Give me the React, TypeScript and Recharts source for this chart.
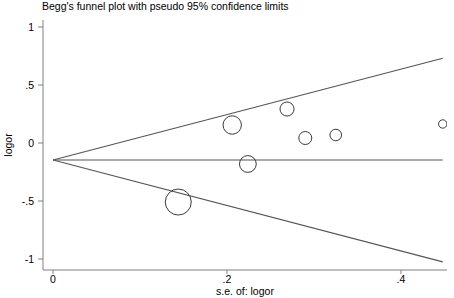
import React from 'react';
import { ComposedChart, Line, Scatter, XAxis, YAxis, ZAxis } from 'recharts';

// studies: standard error vs log odds ratio, weight ~ marker area
const studySE = [0.144, 0.206, 0.224, 0.269, 0.29, 0.325, 0.448];
const studyLogOR = [-0.509, 0.155, -0.181, 0.293, 0.043, 0.069, 0.164];
const studyWeight = [48, 24, 20, 14, 12, 9.5, 5];

// pooled estimate and pseudo 95% limits, read at se = 0 and se = max
const funnelSE = [0, 0.448];
const pooledLine = [-0.147, -0.147];
const upperLimit = [-0.147, 0.731];
const lowerLimit = [-0.147, -1.025];

const xTicks = [0, 0.2, 0.4];
const yTicks = [-1, -0.5, 0, 0.5, 1];

const studies = studySE.map((se, i) => ({ se, y: studyLogOR[i], w: studyWeight[i] }));
const mkLine = (vals: number[]) => funnelSE.map((se, i) => ({ se, y: vals[i] }));

const fmt = (v: number) => {
  if (v === 0) return '0';
  const s = String(v);
  return s.replace(/^(-?)0\./, '$1.');
};

const font = '"Liberation Sans", Arial, sans-serif';
const fs = 10.5;

const Ring = (props: any) => {
  const { cx, cy, width } = props;
  return <circle cx={cx} cy={cy} r={width / 2} fill="none" stroke="#3a3a3a" strokeWidth={1} />;
};

const YLabel = (props: any) => {
  const vb = props.viewBox;
  const x = vb.x + 8;
  const y = vb.y + vb.height / 2;
  return (
    <text x={x} y={y} transform={`rotate(-90 ${x} ${y})`} textAnchor="middle" dominantBaseline="central"
      fontSize={fs} fill="#000" fontFamily={font}>logor</text>
  );
};

export default function App() {
  return (
    <div style={{ position: 'absolute', left: 0, top: 0, width: 454, height: 298, background: '#fff', fontFamily: font }}>
      <div style={{ position: 'absolute', left: 42, top: 0, fontSize: fs, color: '#000', lineHeight: '13px' }}>
        Begg's funnel plot with pseudo 95% confidence limits
      </div>
      <ComposedChart width={454} height={298} margin={{ top: 20, right: 7, bottom: 0, left: 0 }}>
        <XAxis
          type="number"
          dataKey="se"
          domain={[-0.0115, 0.4529]}
          allowDataOverflow
          ticks={xTicks}
          tickFormatter={fmt}
          height={28}
          stroke="#808080"
          tickSize={4}
          tickMargin={2}
          tick={{ fill: '#000', fontSize: fs, fontFamily: font }}
          label={{ value: 's.e. of: logor', position: 'insideBottom', offset: 3, fill: '#000', fontSize: fs, fontFamily: font }}
        />
        <YAxis
          type="number"
          dataKey="y"
          domain={[-1.0948, 1.0603]}
          allowDataOverflow
          ticks={yTicks}
          tickFormatter={fmt}
          width={43}
          stroke="#808080"
          tickSize={5}
          tickMargin={4}
          tick={{ fill: '#000', fontSize: fs, fontFamily: font }}
          label={<YLabel />}
        />
        <ZAxis type="number" dataKey="w" domain={[0, 48]} range={[0, Math.PI * 13 * 13]} />
        <Line data={mkLine(upperLimit)} dataKey="y" stroke="#555" strokeWidth={1.1} dot={false} isAnimationActive={false} />
        <Line data={mkLine(pooledLine)} dataKey="y" stroke="#555" strokeWidth={1.1} dot={false} isAnimationActive={false} />
        <Line data={mkLine(lowerLimit)} dataKey="y" stroke="#555" strokeWidth={1.1} dot={false} isAnimationActive={false} />
        <Scatter data={studies} dataKey="y" shape={<Ring />} isAnimationActive={false} />
      </ComposedChart>
    </div>
  );
}
